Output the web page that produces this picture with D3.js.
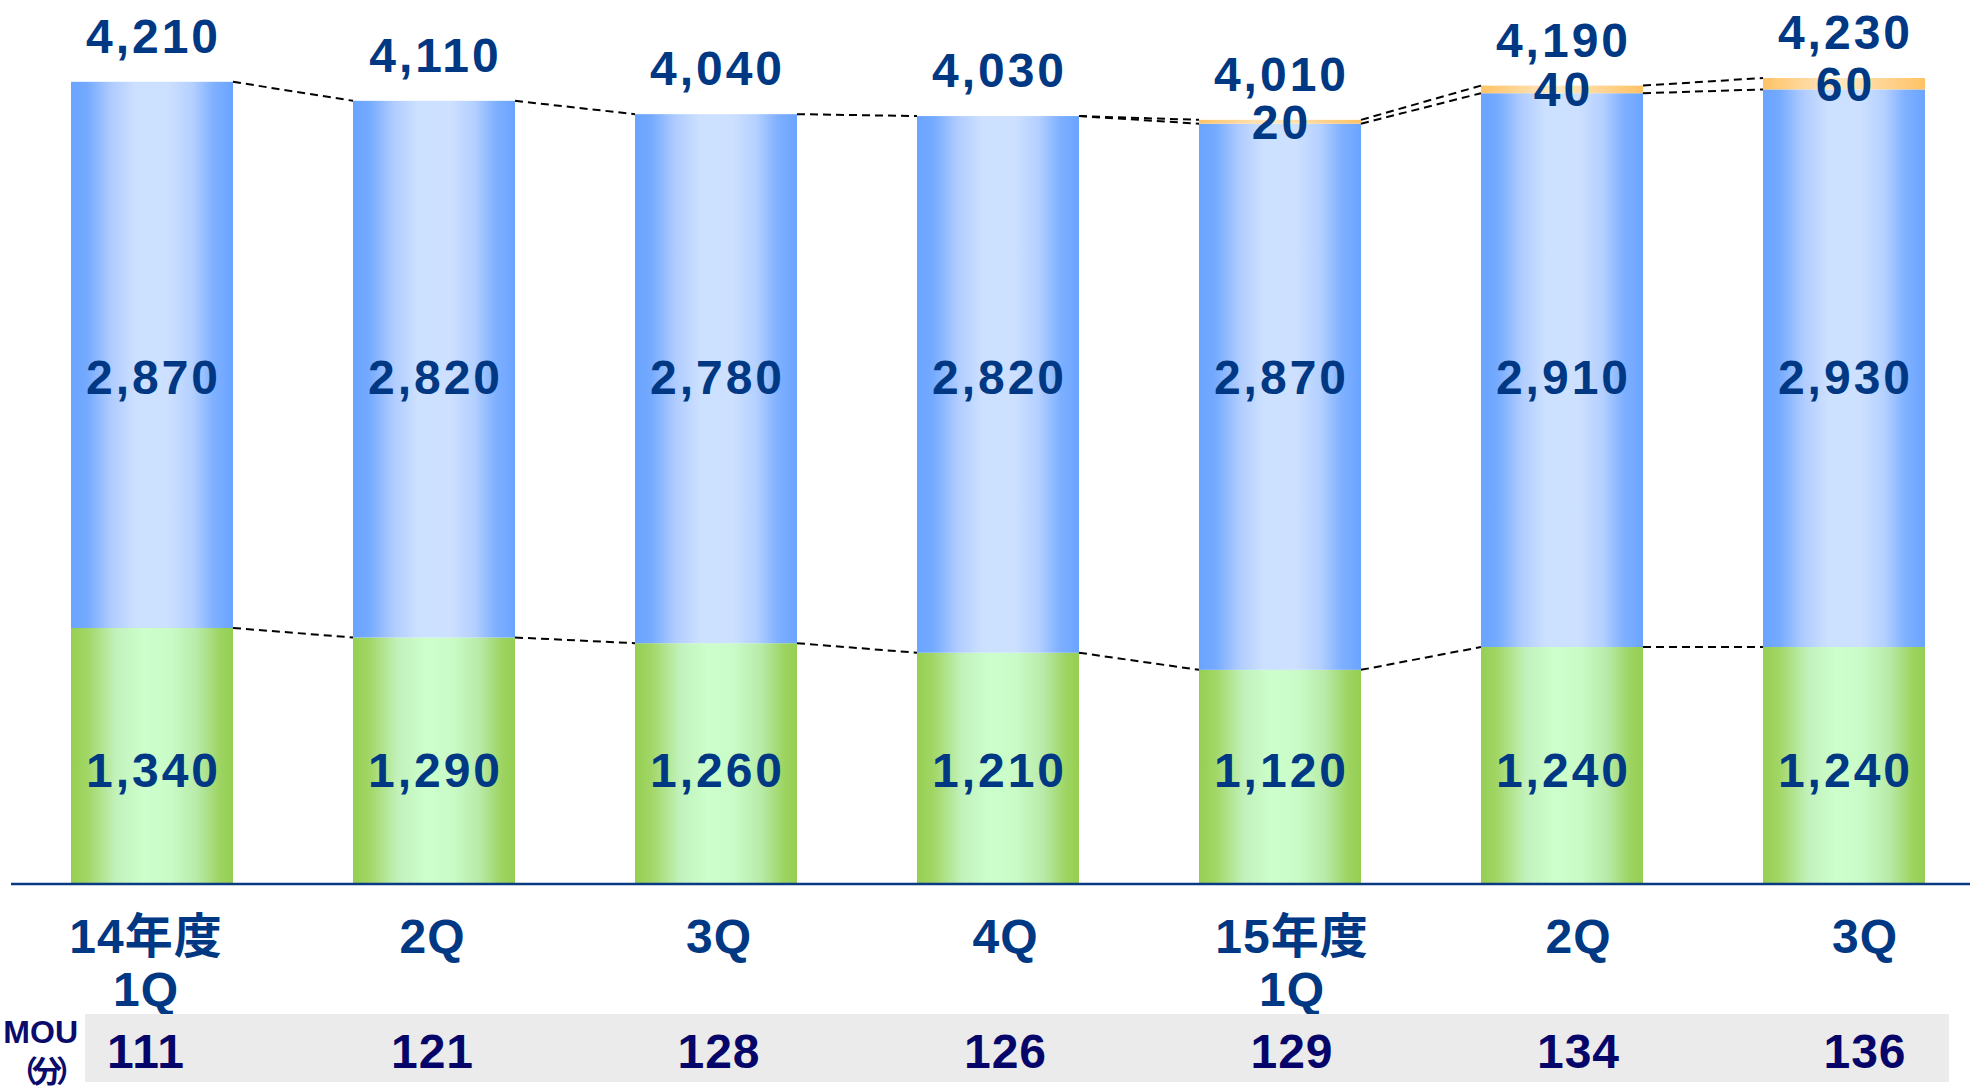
<!DOCTYPE html>
<html>
<head>
<meta charset="utf-8">
<script src="https://cdn.jsdelivr.net/npm/d3@7"></script>
<style>
	body { margin: 0; background: #fff; }
	svg { display: block; font-family: 'Liberation Sans', Arial, 'Noto Sans CJK JP', sans-serif; font-weight: bold; }
</style>
</head>
<body>
<svg id="chart"></svg>
<script>
var width = 1970;
var height = 1090;

// data
var quarters = [['14年度', '1Q'], ['2Q'], ['3Q'], ['4Q'], ['15年度', '1Q'], ['2Q'], ['3Q']];
var lowerValues = [1340, 1290, 1260, 1210, 1120, 1240, 1240];   // green
var middleValues = [2870, 2820, 2780, 2820, 2870, 2910, 2930];  // blue
var topValues = [0, 0, 0, 0, 20, 40, 60];                       // orange
var totalValues = [4210, 4110, 4040, 4030, 4010, 4190, 4230];
var mouValues = [111, 121, 128, 126, 129, 134, 136];

var labelColor = '#003883';
var fmt = d3.format(',');

var svg = d3.select('#chart')
	.attr('width', width)
	.attr('height', height);

var idx = d3.range(quarters.length);

var x = d3.scaleBand()
	.domain(idx)
	.range([11, 1985])
	.paddingInner(0.4255)
	.paddingOuter(0.2128);

var xLabel = d3.scalePoint()
	.domain(idx)
	.range([146, 1865]);

var y = d3.scaleLinear()
	.domain([0, 4230])
	.range([883, 78]);

/****************************
 * gradients
 ****************************/
var defs = svg.append('defs');
function gradient(id, stops) {
	var g = defs.append('linearGradient')
		.attr('id', id)
		.attr('x1', '0%').attr('x2', '100%')
		.attr('y1', '0%').attr('y2', '0%');
	stops.forEach(function(s) {
		g.append('stop').attr('offset', s[0]).attr('stop-color', s[1]);
	});
}
gradient('gBlue', [['0%', '#6aa4ff'], ['10%', '#74aaff'], ['25%', '#b0ccff'], ['40%', '#cce0ff'],
	['60%', '#cde0ff'], ['75%', '#b4d0ff'], ['88%', '#7fb0ff'], ['100%', '#6aa4ff']]);
gradient('gGreen', [['0%', '#95cf52'], ['10%', '#a2d665'], ['28%', '#c2f2bc'], ['45%', '#ccffcc'],
	['62%', '#c8fbc6'], ['78%', '#b8eaa8'], ['92%', '#9dd461'], ['100%', '#95cf52']]);
gradient('gOrange', [['0%', '#ffc266'], ['45%', '#ffe9c4'], ['100%', '#ffc266']]);

/****************************
 * stacked bars
 ****************************/
var stacks = idx.map(function(i) {
	var a = lowerValues[i], b = a + middleValues[i], c = b + topValues[i];
	return [
		{i: i, y0: 0, y1: a, fill: 'url(#gGreen)'},
		{i: i, y0: a, y1: b, fill: 'url(#gBlue)'},
		{i: i, y0: b, y1: c, fill: 'url(#gOrange)'}
	];
});

svg.append('g').selectAll('rect')
	.data(d3.merge(stacks).filter(function(d) { return d.y1 > d.y0; }))
	.enter().append('rect')
	.attr('x', function(d) { return x(d.i); })
	.attr('y', function(d) { return y(d.y1); })
	.attr('width', x.bandwidth())
	.attr('height', function(d) { return y(d.y0) - y(d.y1); })
	.attr('fill', function(d) { return d.fill; });

/****************************
 * dashed connectors
 ****************************/
var links = [];
idx.slice(0, -1).forEach(function(i) {
	var j = i + 1;
	var levelsA = [lowerValues[i], lowerValues[i] + middleValues[i], totalValues[i]];
	var levelsB = [lowerValues[j], lowerValues[j] + middleValues[j], totalValues[j]];
	links.push([i, levelsA[0], levelsB[0]]);
	links.push([i, levelsA[1], levelsB[1]]);
	if (topValues[i] > 0 || topValues[j] > 0) links.push([i, levelsA[2], levelsB[2]]);
});

svg.append('g').selectAll('line')
	.data(links)
	.enter().append('line')
	.attr('x1', function(d) { return x(d[0]) + x.bandwidth(); })
	.attr('x2', function(d) { return x(d[0] + 1); })
	.attr('y1', function(d) { return y(d[1]); })
	.attr('y2', function(d) { return y(d[2]); })
	.attr('stroke', '#000')
	.attr('stroke-width', 2)
	.attr('stroke-dasharray', '8,5');

/****************************
 * axis line
 ****************************/
svg.append('line')
	.attr('x1', 11).attr('x2', width)
	.attr('y1', y(0) + 1).attr('y2', y(0) + 1)
	.attr('stroke', '#0a3a82')
	.attr('stroke-width', 2.5);

/****************************
 * value labels
 ****************************/
var labels = svg.append('g')
	.attr('fill', labelColor)
	.attr('font-size', 48)
	.attr('letter-spacing', '3px')
	.attr('text-anchor', 'middle');

function cx(i) { return x(i) + x.bandwidth() / 2 + 1.5; }

labels.selectAll('.total')
	.data(idx)
	.enter().append('text')
	.attr('class', 'total')
	.attr('x', cx)
	.attr('y', function(i) { return y(totalValues[i]) - 29; })
	.text(function(i) { return fmt(totalValues[i]); });

labels.selectAll('.mid')
	.data(idx)
	.enter().append('text')
	.attr('class', 'mid')
	.attr('x', cx)
	.attr('y', y(2572))
	.text(function(i) { return fmt(middleValues[i]); });

labels.selectAll('.low')
	.data(idx)
	.enter().append('text')
	.attr('class', 'low')
	.attr('x', cx)
	.attr('y', y(505))
	.text(function(i) { return fmt(lowerValues[i]); });

labels.selectAll('.top')
	.data(idx.filter(function(i) { return topValues[i] > 0; }))
	.enter().append('text')
	.attr('class', 'top')
	.attr('x', cx)
	.attr('y', function(i) { return y(totalValues[i] - topValues[i] / 2) + 17; })
	.text(function(i) { return fmt(topValues[i]); });

/****************************
 * category labels
 ****************************/
var cats = svg.append('g')
	.attr('fill', labelColor)
	.attr('font-size', 48)
	.attr('letter-spacing', '1px')
	.attr('text-anchor', 'middle');

cats.selectAll('text')
	.data(idx)
	.enter().append('text')
	.attr('x', function(i) { return xLabel(i); })
	.attr('y', 953)
	.each(function(i) {
		var t = d3.select(this);
		quarters[i].forEach(function(line, k) {
			t.append('tspan')
				.attr('x', xLabel(i))
				.attr('dy', k === 0 ? 0 : 53)
				.text(line);
		});
	});

/****************************
 * MOU row
 ****************************/
svg.append('rect')
	.attr('x', 85).attr('y', 1014)
	.attr('width', 1864).attr('height', 68)
	.attr('fill', '#ebebeb');

svg.append('text')
	.attr('fill', '#0b0b6b')
	.attr('font-size', 32)
	.attr('text-anchor', 'end')
	.attr('x', 78)
	.attr('y', 1043)
	.text('MOU');

svg.append('text')
	.attr('fill', '#0b0b6b')
	.attr('font-size', 30)
	.attr('letter-spacing', '-6px')
	.attr('text-anchor', 'end')
	.attr('x', 80)
	.attr('y', 1082)
	.text('（分）');

svg.append('g')
	.attr('fill', '#06066a')
	.attr('font-size', 48)
	.attr('letter-spacing', '1px')
	.attr('text-anchor', 'middle')
	.selectAll('text')
	.data(idx)
	.enter().append('text')
	.attr('x', function(i) { return xLabel(i); })
	.attr('y', 1068)
	.text(function(i) { return mouValues[i]; });
</script>
</body>
</html>
